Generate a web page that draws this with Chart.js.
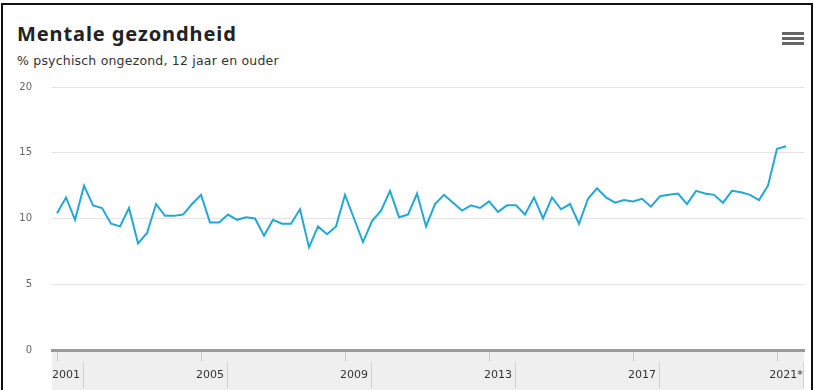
<!DOCTYPE html>
<html>
<head>
<meta charset="utf-8">
<script src="https://cdn.jsdelivr.net/npm/chart.js@4/dist/chart.umd.min.js"></script>
<style>
  body { margin: 0; background: #fff; }
  #wrap { position: relative; width: 814px; height: 390px; overflow: hidden; }
  #frame { position: absolute; left: 1px; top: 3px; width: 808px; height: 400px; border: 2px solid #111; }
  h1 { position: absolute; left: 17px; top: 24px; margin: 0; font: bold 20px/20px "Noto Sans", sans-serif; letter-spacing: 0.9px; color: #222; }
  .sub { position: absolute; left: 17px; top: 55px; font: 12.5px/12px "DejaVu Sans", sans-serif; letter-spacing: 0.2px; color: #333; }
  .menu { position: absolute; left: 782px; top: 32px; width: 22px; }
  .menu span { display: block; height: 3px; background: #666; margin-bottom: 2px; }
  canvas { position: absolute; left: 0; top: 0; }
</style>
</head>
<body>
<div id="wrap">
  <div id="frame"></div>
  <h1>Mentale gezondheid</h1>
  <div class="sub">% psychisch ongezond, 12 jaar en ouder</div>
  <div class="menu"><span></span><span></span><span></span></div>
  <canvas id="chart" width="814" height="390"></canvas>
</div>
<script>
// quarterly share of people aged 12+ reporting poor mental health, 2001 Q1 - 2021 Q2
const values = [
  10.4, 11.6, 9.9, 12.5, 11.0, 10.8, 9.6, 9.4,
  10.8, 8.1, 8.9, 11.1, 10.2, 10.2, 10.3, 11.1,
  11.8, 9.7, 9.7, 10.3, 9.9, 10.1, 10.0, 8.7,
  9.9, 9.6, 9.6, 10.7, 7.8, 9.4, 8.8, 9.4,
  11.8, 10.0, 8.2, 9.8, 10.6, 12.1, 10.1, 10.3,
  11.9, 9.4, 11.1, 11.8, 11.2, 10.6, 11.0, 10.8,
  11.3, 10.5, 11.0, 11.0, 10.3, 11.6, 10.0, 11.6,
  10.7, 11.1, 9.6, 11.5, 12.3, 11.6, 11.2, 11.4,
  11.3, 11.5, 10.9, 11.7, 11.8, 11.9, 11.1, 12.1,
  11.9, 11.8, 11.2, 12.1, 12.0, 11.8, 11.4, 12.5,
  15.3, 15.5
];

const quarters = [];
for (let y = 2001; quarters.length < values.length; y++) {
  for (let q = 1; q <= 4 && quarters.length < values.length; q++) quarters.push(y + 'K' + q);
}

const tickYears = ['2001', '2005', '2009', '2013', '2017', '2021'];
const tickLabels = ['2001', '2005', '2009', '2013', '2017', '2021*'];
const tickIndex = tickYears.map(y => quarters.indexOf(y + 'K1'));

const yTicks = [0, 5, 10, 15, 20];

// grey strip under the x axis with small dividers after each year label
const axisBand = {
  id: 'axisBand',
  beforeDraw(chart) {
    const { ctx, chartArea } = chart;
    ctx.save();
    ctx.fillStyle = '#efefef';
    ctx.fillRect(chartArea.left, chartArea.bottom + 1, chartArea.right - chartArea.left, 40);
    ctx.restore();
  },
  afterDraw(chart) {
    const { ctx, chartArea, scales } = chart;
    ctx.save();
    ctx.strokeStyle = '#d2d2d2';
    ctx.lineWidth = 1;
    tickIndex.forEach(i => {
      const x = Math.round(scales.x.getPixelForValue(i)) + 26.5;
      ctx.beginPath();
      ctx.moveTo(x, chartArea.bottom + 12);
      ctx.lineTo(x, chartArea.bottom + 38);
      ctx.stroke();
    });
    ctx.restore();
  }
};

new Chart(document.getElementById('chart'), {
  type: 'line',
  data: {
    datasets: [{
      label: '% psychisch ongezond',
      data: values.map((v, i) => ({ x: i, y: v })),
      borderColor: '#22a7d7',
      borderWidth: 2,
      pointRadius: 0,
      tension: 0,
      fill: false
    }]
  },
  options: {
    responsive: false,
    animation: false,
    devicePixelRatio: 1,
    layout: { padding: { top: 87, right: 10, left: 0, bottom: 0 } },
    plugins: {
      legend: { display: false },
      tooltip: { enabled: false }
    },
    scales: {
      x: {
        type: 'linear',
        min: -0.56,
        max: 83,
        afterBuildTicks: s => { s.ticks = tickIndex.map(v => ({ value: v })); },
        afterFit: s => { s.height = 40; },
        ticks: {
          autoSkip: false,
          maxRotation: 0,
          padding: 8,
          labelOffset: 9,
          color: '#333',
          font: { family: 'DejaVu Sans', size: 11 },
          callback: v => tickLabels[tickIndex.indexOf(v)]
        },
        grid: { drawOnChartArea: false, drawTicks: true, tickLength: 11, color: '#c8c8c8' },
        border: { display: true, color: '#9a9a9a', width: 3 }
      },
      y: {
        min: 0,
        max: 20,
        afterBuildTicks: s => { s.ticks = yTicks.map(v => ({ value: v })); },
        afterFit: s => { s.width = 52; },
        ticks: {
          padding: 20,
          color: '#666',
          font: { family: 'DejaVu Sans', size: 10 }
        },
        grid: { color: '#e4e4e4', lineWidth: 1, drawTicks: false },
        border: { display: false }
      }
    }
  },
  plugins: [axisBand]
});
</script>
</body>
</html>
